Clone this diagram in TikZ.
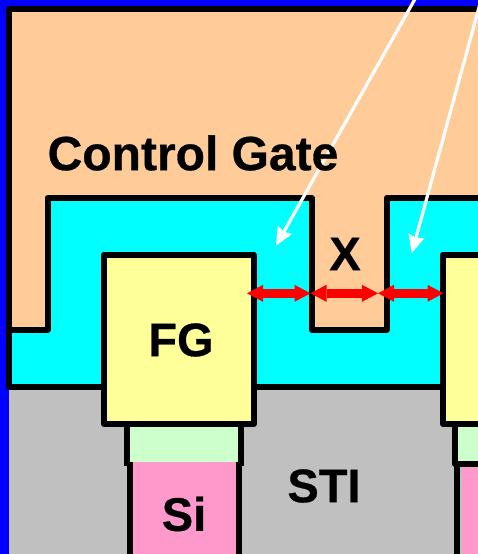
\documentclass[tikz,border=0pt]{standalone}
\usepackage{fontspec}
\setmainfont[BoldFeatures={FakeBold=0.6}]{Liberation Sans}
\usetikzlibrary{arrows.meta}
\definecolor{peach}{HTML}{FFCC99}
\definecolor{cyanfill}{HTML}{00FFFF}
\definecolor{fgfill}{HTML}{FFFF99}
\definecolor{oxfill}{HTML}{CCFFCC}
\definecolor{sifill}{HTML}{FF99CC}
\definecolor{stifill}{HTML}{C0C0C0}
\tikzset{
  outline/.style={draw=black,line width=6pt,line join=round},
  lbl/.style={inner sep=0pt,font=\fontsize{47}{47}\selectfont\bfseries},
  redarrow/.style={draw=red,line width=8.5pt,{Triangle[length=16pt,width=17pt,inset=0pt,line width=0pt]}-{Triangle[length=16pt,width=17pt,inset=0pt,line width=0pt]}},
  whitearrow/.style={draw=white,line width=3.2pt,-{Stealth[length=18pt,width=16pt,inset=2pt]}}
}
\begin{document}
\begin{tikzpicture}[x=1pt,y=-1pt]
\useasboundingbox (0,0) rectangle (478,554);
\clip (0,0) rectangle (478,554);
% frame and substrate
\fill[blue] (0,0) rectangle (478,554);
\fill[stifill] (9,386) rectangle (478,554);
% dielectric
\fill[cyanfill] (8.7,198) rectangle (478,386.5);
% control gate
\path[fill=peach,outline] (8.7,329.5) -- (8.7,8.7) -- (490,8.7) -- (490,198) -- (386.7,198) -- (386.7,329.5) -- (311.7,329.5) -- (311.7,198) -- (47.5,198) -- (47.5,329.5) -- cycle;
\draw[outline] (8.7,329.5) -- (8.7,386.5) -- (490,386.5);
% left cell
\path[fill=sifill] (129.5,461.7) rectangle (238.8,560);
\draw[outline] (129.5,461) -- (129.5,560) (238.8,560) -- (238.8,461);
\path[fill=oxfill] (126.5,424) rectangle (240.7,461.5);
\draw[outline,line cap=butt] (126.5,424) -- (126.5,466);
\draw[outline,line cap=butt] (240.7,424) -- (240.7,466);
\node[outline,fill=fgfill,outer sep=0pt,minimum width=149.7pt,minimum height=169.3pt,inner sep=0pt,anchor=north west] (fgl) at (104,254.7) {};
% right cell
\path[fill=sifill] (461.7,466) rectangle (490,560);
\draw[outline] (457,463.5) -- (457,560);
\path[fill=oxfill] (454.7,424) rectangle (490,461);
\draw[outline] (454.7,424) -- (454.7,463.5) -- (490,463.5);
\node[outline,fill=fgfill,outer sep=0pt,minimum width=80pt,minimum height=169.3pt,inner sep=0pt,anchor=north west] (fgr) at (443,254.7) {};
% connectors
\coordinate (a) at (247,293.3);
\coordinate (b) at (310.5,293.3);
\coordinate (c) at (378,293.3);
\coordinate (d) at (443.5,293.3);
\draw[redarrow] (a) -- (b);
\draw[redarrow] (b) -- (c);
\draw[redarrow] (c) -- (d);
\coordinate (w1s) at (415,-1);
\coordinate (w1e) at (276,245.7);
\coordinate (w2s) at (481,0);
\coordinate (w2e) at (411.7,253.3);
\draw[whitearrow] (w1s) -- (w1e);
\draw[whitearrow] (w2s) -- (w2e);
% labels
\node[lbl,font=\fontsize{48}{48}\selectfont\bfseries] (cg) at (193,153) {Control Gate};
\node[lbl] (x) at (345,254) {X};
\node[lbl] (fg) at (181,340) {FG};
\node[lbl] (sti) at (324,486) {STI};
\node[lbl] (si) at (184,514) {Si};
\end{tikzpicture}
\end{document}
